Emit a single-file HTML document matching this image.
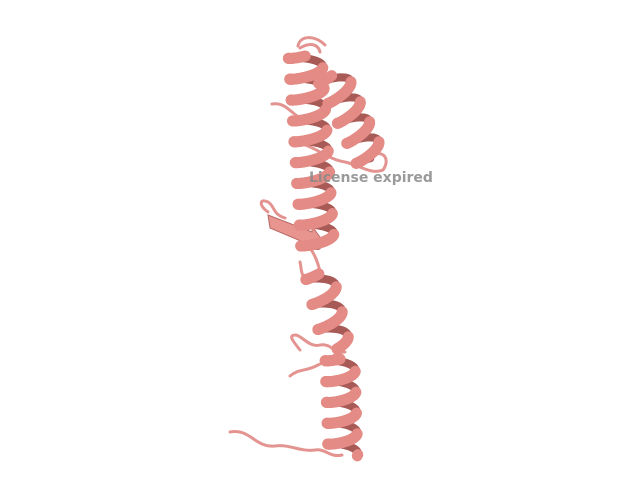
<!DOCTYPE html>
<html><head><meta charset="utf-8"><style>
html,body{margin:0;padding:0;background:#fff;width:640px;height:480px;overflow:hidden}
svg{display:block}
</style></head><body>
<svg id="mol" width="640" height="480" viewBox="0 0 640 480">
<g id="loops" fill="none" stroke="#e39490" stroke-width="3" stroke-linecap="round" stroke-linejoin="round">
<path d="M230,432 C250,428 255,448 275,446 C290,444 300,452 315,450 C325,448 330,458 342,455"/>
<path d="M290,376 C300,368 305,372 318,365 C330,360 335,352 345,352 M300,350 C292,340 288,335 296,335 C302,336 310,348 320,345 C330,343 335,352 340,355"/>
<path d="M272,104 C285,102 290,112 300,118 M305,145 C320,150 330,160 345,162 C360,165 370,175 383,170 C390,160 385,150 372,155"/>
<path d="M268,212 C258,205 260,198 268,202 C275,206 272,214 285,218 M310,248 C315,255 318,262 320,272 M300,262 C302,270 300,278 310,280"/>
<path d="M298,46 C300,35 315,35 325,45 M300,48 C310,42 318,44 320,52"/>
</g>
<g>
<polygon points="268,215 312,232 312,226 322,240 306,250 308,244 270,228" fill="#e89590" stroke="#b86a66" stroke-width="1"/>
</g>
<g id="helices"></g>
<text x="309" y="182" font-family="DejaVu Sans, sans-serif" font-weight="bold" font-size="14" fill="#888" fill-opacity="0.85">License expired</text>
</svg>
<script>
const helixStarts=[[305,52],[330,72],[318,270],[340,355]];
const helixEnds=[[318,250],[372,162],[336,345],[343,455]];
const helixTurns=[9.5,4.5,3,4.8];
const helixRadius=[17,15,14,15];
const g=document.getElementById('helices');
const NS='http://www.w3.org/2000/svg';
helixStarts.forEach((s,i)=>{
  const e=helixEnds[i],n=helixTurns[i],r=helixRadius[i];
  const dx=e[0]-s[0],dy=e[1]-s[1],L=Math.hypot(dx,dy),ux=dx/L,uy=dy/L,px=-uy,py=ux;
  const grp=document.createElementNS(NS,'g');
  
  
  const steps=Math.round(n*40);
  for(let k=0;k<steps;k++){
    const t0=k/steps,t1=(k+1)/steps;
    const a0=t0*n*2*Math.PI,a1=t1*n*2*Math.PI;
    const pt=(t,a)=>{const along=t*L+4*Math.cos(a);const side=r*Math.sin(a);return [s[0]+ux*along+px*side,s[1]+uy*along+py*side];};
    const p0=pt(t0,a0),p1=pt(t1,a1);
    const front=Math.cos(a0)>0;
    const seg=document.createElementNS(NS,'line');
    
    
    seg.setAttribute('x1',p0[0]);seg.setAttribute('y1',p0[1]);
    seg.setAttribute('x2',p1[0]);seg.setAttribute('y2',p1[1]);
    seg.setAttribute('stroke',front?'#e48b86':'#a85a56');
    seg.setAttribute('stroke-width',front?11:8);
    seg.setAttribute('stroke-linecap','round');
    if(front)grp.appendChild(seg);else grp.insertBefore(seg,grp.firstChild);
  }
  g.appendChild(grp);
});
</script>
</body></html>
